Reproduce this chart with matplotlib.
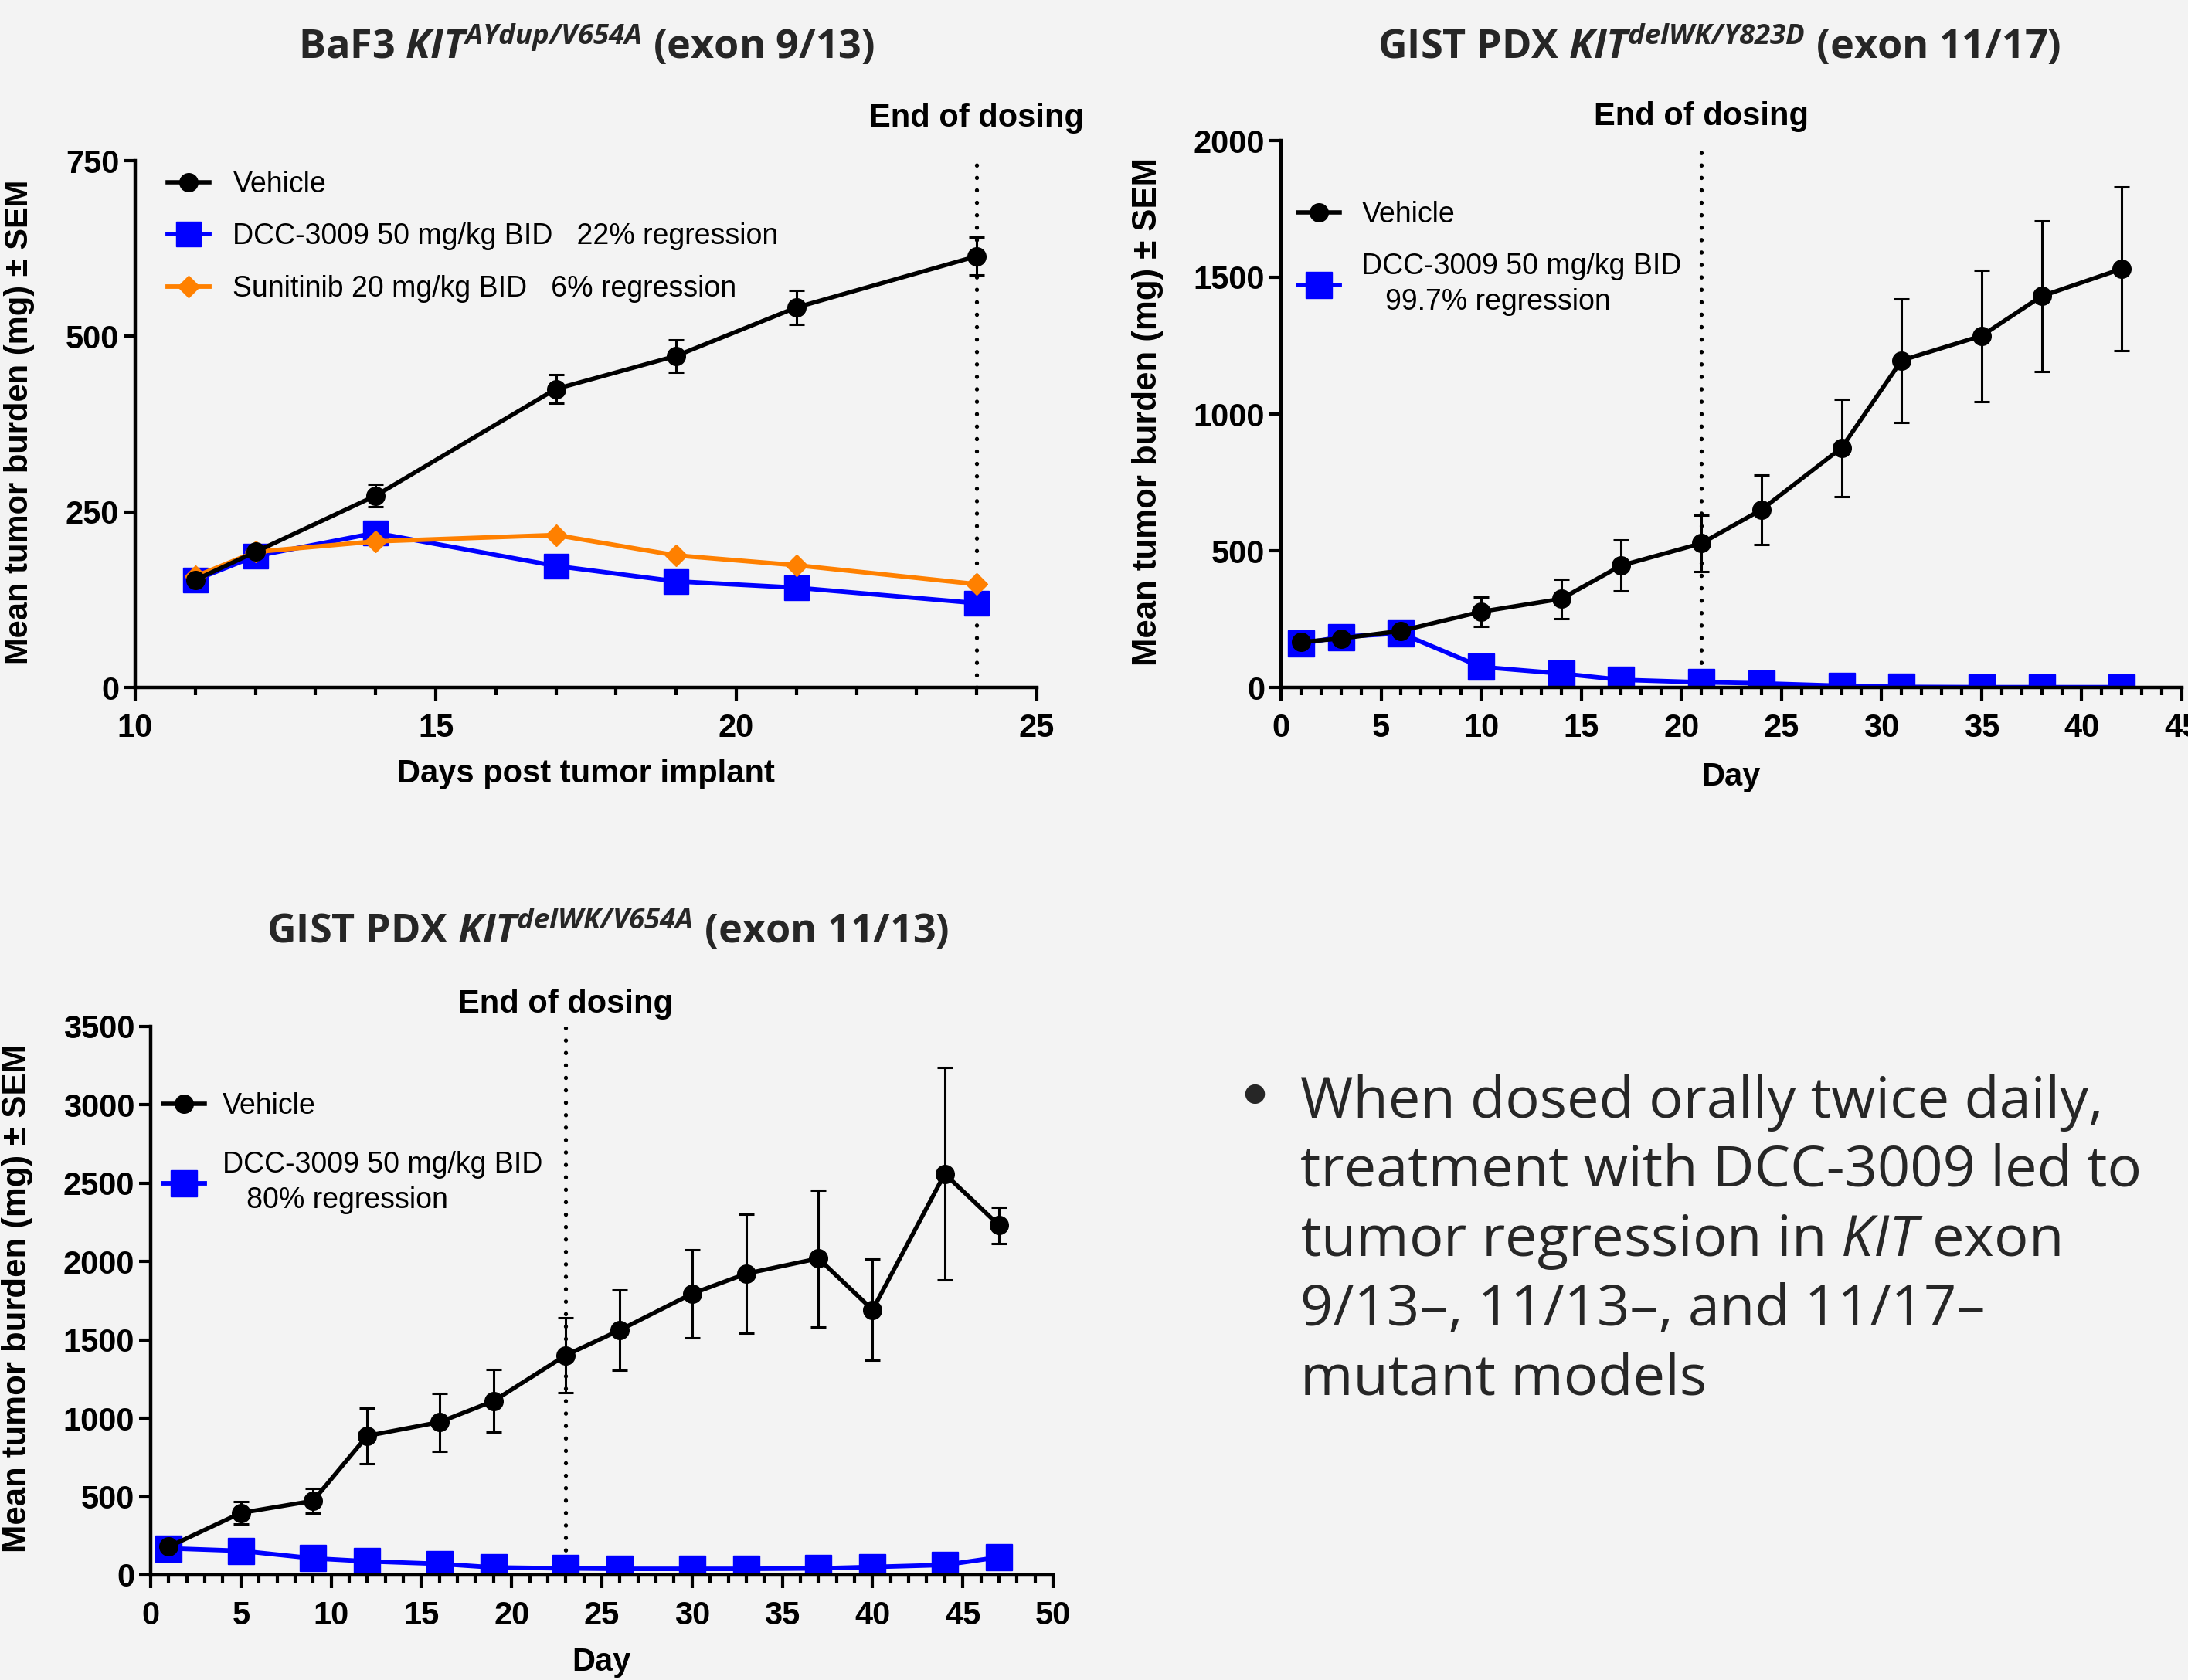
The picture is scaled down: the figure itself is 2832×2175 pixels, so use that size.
import matplotlib
matplotlib.use("Agg")
import matplotlib.pyplot as plt
import matplotlib.transforms as mtransforms
from matplotlib.ticker import MultipleLocator

plt.rcParams['mathtext.fontset'] = 'custom'
plt.rcParams['mathtext.rm'] = 'Open Sans'
plt.rcParams['mathtext.it'] = 'Open Sans:italic'
plt.rcParams['mathtext.bfit'] = 'Open Sans:italic:bold'

# ---- data: BaF3 KIT AYdup/V654A (exon 9/13)
p1_days = [11, 12, 14, 17, 19, 21, 24]
p1_vehicle = [153, 193, 273, 425, 472, 541, 614]
p1_vehicle_sem = [6, 6, 16, 20, 23, 24, 27]
p1_dcc = [153, 187, 220, 173, 151, 142, 120]
p1_sunitinib = [158, 193, 208, 217, 188, 174, 147]

# ---- data: GIST PDX KIT delWK/Y823D (exon 11/17)
p2_days = [1, 3, 6, 10, 14, 17, 21, 24, 28, 31, 35, 38, 42]
p2_vehicle = [166, 179, 207, 277, 324, 446, 527, 650, 876, 1196, 1286, 1431, 1531]
p2_vehicle_sem = [15, 15, 15, 54, 72, 94, 102, 128, 179, 226, 240, 276, 300]
p2_dcc = [160, 185, 198, 75, 51, 28, 19, 15, 6, 2, 1, 1, 1]

# ---- data: GIST PDX KIT delWK/V654A (exon 11/13)
p3_days = [1, 5, 9, 12, 16, 19, 23, 26, 30, 33, 37, 40, 44, 47]
p3_vehicle = [180, 396, 473, 888, 975, 1110, 1402, 1563, 1795, 1923, 2020, 1692, 2560, 2232]
p3_vehicle_sem = [20, 72, 80, 178, 185, 200, 241, 257, 280, 380, 437, 322, 679, 116]
p3_dcc = [170, 154, 106, 87, 71, 48, 42, 39, 39, 39, 42, 51, 64, 113]

bullet_lines = ["When dosed orally twice daily,",
                "treatment with DCC-3009 led to",
                "tumor regression in $\\mathit{KIT}$ exon",
                "9/13\u2013, 11/13\u2013, and 11/17\u2013",
                "mutant models"]

BG = '#f3f3f3'
BLUE = '#0000ff'
ORANGE = '#ff8000'
W, H = 2832, 2175

fig = plt.figure(figsize=(W / 100, H / 100), dpi=100, facecolor=BG)


def px_axes(left, top, right, bottom):
    return fig.add_axes([left / W, 1 - bottom / H, (right - left) / W, (bottom - top) / H])


def fy(y):
    return 1 - y / H


def style_axes(ax, xlim, ylim, xmajor, ymajor):
    ax.set_facecolor(BG)
    ax.set_xlim(*xlim)
    ax.set_ylim(*ylim)
    for s in ['top', 'right']:
        ax.spines[s].set_visible(False)
    for s in ['left', 'bottom']:
        ax.spines[s].set_linewidth(3.2)
    ax.xaxis.set_major_locator(MultipleLocator(xmajor))
    ax.xaxis.set_minor_locator(MultipleLocator(1))
    ax.yaxis.set_major_locator(MultipleLocator(ymajor))
    ax.tick_params(axis='x', which='major', length=12, width=3, pad=12)
    ax.tick_params(axis='x', which='minor', length=7, width=3)
    ax.tick_params(axis='y', which='major', length=11, width=3, pad=4)
    for lab in ax.get_xticklabels() + ax.get_yticklabels():
        lab.set_fontfamily('Liberation Sans')
        lab.set_fontweight('bold')
        lab.set_fontsize(30)


def dosing_line(ax, xday, ytext):
    ax.axvline(xday, color='black', lw=3.8, linestyle=(0, (0.05, 3.0)),
               dash_capstyle='round', zorder=1)
    tr = mtransforms.blended_transform_factory(ax.transData, fig.transFigure)
    ax.text(xday, fy(ytext), 'End of dosing', transform=tr, ha='center', va='center',
            fontsize=30, fontweight='bold', family='Liberation Sans')


def vehicle(ax, x, y, e, ms):
    ax.errorbar(x, y, yerr=e, fmt='none', ecolor='black', elinewidth=2.2,
                capsize=7.5, capthick=2.2, zorder=4)
    ln, = ax.plot(x, y, color='black', lw=4, marker='o', ms=ms, zorder=5)
    return ln


def add_legend(ax, handles, labels, x, y, labelspacing, textpad):
    leg = ax.legend(handles, labels, loc='upper left', bbox_to_anchor=(x / W, fy(y)),
                    bbox_transform=fig.transFigure, frameon=False,
                    prop={'family': 'Liberation Sans', 'size': 27}, handlelength=1.45,
                    handletextpad=textpad, labelspacing=labelspacing, borderpad=0,
                    borderaxespad=0)
    for t in leg.get_texts():
        t.set_linespacing(1.35)
    return leg


# ---------------- panel 1
ax1 = px_axes(175, 208, 1342, 890)
style_axes(ax1, (10, 25), (0, 750), 5, 250)
d1, = ax1.plot(p1_days, p1_dcc, color=BLUE, lw=4.2, marker='s', ms=23, zorder=2)
s1, = ax1.plot(p1_days, p1_sunitinib, color=ORANGE, lw=4.2, marker='D', ms=14, zorder=3)
v1 = vehicle(ax1, p1_days, p1_vehicle, p1_vehicle_sem, 17)
dosing_line(ax1, 24, 153)
add_legend(ax1, [v1, d1, s1], ['Vehicle', 'DCC-3009 50 mg/kg BID   22% regression',
                               'Sunitinib 20 mg/kg BID   6% regression'],
           217, 221, 0.84, 0.8)
fig.text(759 / W, fy(60), 'BaF3 $\\mathbfit{KIT}^{\\mathbfit{AYdup/V654A}}$ (exon 9/13)',
         ha='center', va='center', fontsize=37.5, fontweight='bold', family='Open Sans',
         color='#262626')
fig.text(25 / W, fy(546), 'Mean tumor burden (mg) \u00b1 SEM', rotation=90, ha='center',
         va='center', fontsize=30, fontweight='bold', family='Liberation Sans')
fig.text(758 / W, fy(1002), 'Days post tumor implant', ha='center', va='center',
         fontsize=30, fontweight='bold', family='Liberation Sans')

# ---------------- panel 2
ax2 = px_axes(1658, 182, 2824, 890)
style_axes(ax2, (0, 45), (0, 2000), 5, 500)
d2, = ax2.plot(p2_days, p2_dcc, color=BLUE, lw=4.2, marker='s', ms=24, zorder=2)
v2 = vehicle(ax2, p2_days, p2_vehicle, p2_vehicle_sem, 17)
dosing_line(ax2, 21, 151)
add_legend(ax2, [v2, d2], ['Vehicle', 'DCC-3009 50 mg/kg BID\n   99.7% regression'],
           1680, 260, 0.82, 0.75)
fig.text(2225 / W, fy(60), 'GIST PDX $\\mathbfit{KIT}^{\\mathbfit{delWK/Y823D}}$ (exon 11/17)',
         ha='center', va='center', fontsize=37.5, fontweight='bold', family='Open Sans',
         color='#262626')
fig.text(1485 / W, fy(533), 'Mean tumor burden (mg) \u00b1 SEM', rotation=90, ha='center',
         va='center', fontsize=31.5, fontweight='bold', family='Liberation Sans')
fig.text(2240 / W, fy(1006), 'Day', ha='center', va='center',
         fontsize=30, fontweight='bold', family='Liberation Sans')

# ---------------- panel 3
ax3 = px_axes(195, 1329, 1363, 2039)
style_axes(ax3, (0, 50), (0, 3500), 5, 500)
d3, = ax3.plot(p3_days, p3_dcc, color=BLUE, lw=4.2, marker='s', ms=24, zorder=2)
v3 = vehicle(ax3, p3_days, p3_vehicle, p3_vehicle_sem, 17)
dosing_line(ax3, 23, 1300)
add_legend(ax3, [v3, d3], ['Vehicle', 'DCC-3009 50 mg/kg BID\n   80% regression'],
           211, 1414, 1.08, 0.6)
fig.text(787 / W, fy(1205), 'GIST PDX $\\mathbfit{KIT}^{\\mathbfit{delWK/V654A}}$ (exon 11/13)',
         ha='center', va='center', fontsize=37.5, fontweight='bold', family='Open Sans',
         color='#262626')
fig.text(23 / W, fy(1681), 'Mean tumor burden (mg) \u00b1 SEM', rotation=90, ha='center',
         va='center', fontsize=31.5, fontweight='bold', family='Liberation Sans')
fig.text(778 / W, fy(2152), 'Day', ha='center', va='center',
         fontsize=30, fontweight='bold', family='Liberation Sans')

# ---------------- bullet text
baselines = [1447, 1536, 1626, 1716, 1805]
fig.text(1624 / W, fy(1415), '\u25cf', ha='center', va='center', fontsize=24,
         family='DejaVu Sans', color='#262626')
for line, yb in zip(bullet_lines, baselines):
    fig.text(1683 / W, fy(yb), line, ha='left', va='baseline', fontsize=53.3,
             family='Open Sans', color='#262626')

fig.savefig('out.png', dpi=100, facecolor=BG)
